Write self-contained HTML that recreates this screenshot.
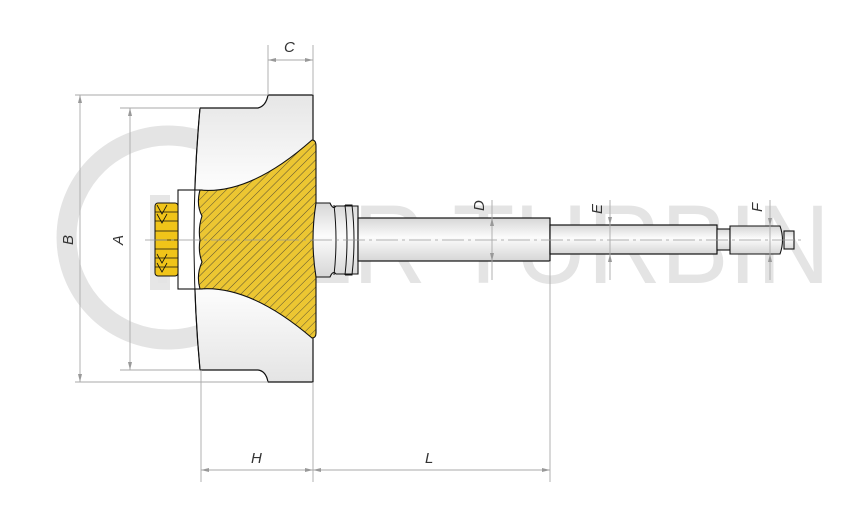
<!DOCTYPE html>
<html><head><meta charset="utf-8"><style>
html,body{margin:0;padding:0;background:#fff;}
svg{display:block;}
text{font-family:"Liberation Sans",sans-serif;}
</style></head><body>
<svg width="864" height="530" viewBox="0 0 864 530" xmlns="http://www.w3.org/2000/svg">
<defs>
<linearGradient id="g" x1="0" y1="0" x2="0" y2="1">
<stop offset="0" stop-color="#d6d6d6"/><stop offset="0.45" stop-color="#fcfcfc"/><stop offset="1" stop-color="#d6d6d6"/>
</linearGradient>
<linearGradient id="gw" x1="0" y1="0" x2="0" y2="1">
<stop offset="0" stop-color="#e6e6e6"/><stop offset="0.3" stop-color="#fbfbfb"/><stop offset="0.7" stop-color="#fbfbfb"/><stop offset="1" stop-color="#e4e4e4"/>
</linearGradient>
<pattern id="h" width="6" height="6" patternUnits="userSpaceOnUse" patternTransform="rotate(45)">
<rect width="6" height="6" fill="#ecc632"/><line x1="0" y1="0" x2="0" y2="6" stroke="#333" stroke-width="0.8"/>
</pattern>
</defs>
<!-- watermark -->
<g>
<path d="M 245 170 A 102 102 0 1 0 245 305" fill="none" stroke="#e4e4e4" stroke-width="20"/>
<polygon points="150,195 170,195 170,230 200,200 225,200 185,240 225,285 200,285 170,252 170,290 150,290" fill="#e6e6e6"/>
<text x="150" y="283" font-size="112" fill="#e4e4e4" textLength="680" lengthAdjust="spacingAndGlyphs">NTER TURBIN</text>
</g>
<!-- wheel -->
<path d="M200 108 L258 108 Q266 106 268 95 L313 95 L313 382 L268 382 Q266 371 258 370 L200 370 Q188 239 200 108 Z" fill="url(#gw)" stroke="#111" stroke-width="1.2"/>
<!-- hub box -->
<rect x="178" y="190" width="24" height="99" fill="#fff" stroke="#111" stroke-width="1.1"/>
<path d="M200 108 Q188 239 200 370" fill="none" stroke="#111" stroke-width="1"/>
<!-- nut -->
<rect x="155" y="203" width="23" height="73" rx="3" fill="#f0c419" stroke="#111" stroke-width="1"/>
<g stroke="#111" stroke-width="0.8" fill="none">
<line x1="155" y1="212" x2="178" y2="212"/><line x1="155" y1="221" x2="178" y2="221"/><line x1="155" y1="231" x2="178" y2="231"/><line x1="155" y1="240" x2="178" y2="240"/><line x1="155" y1="249" x2="178" y2="249"/><line x1="155" y1="258" x2="178" y2="258"/><line x1="155" y1="267" x2="178" y2="267"/>
<polyline points="157,205 162,214 167,205"/><polyline points="157,214 162,223 167,214"/><polyline points="157,254 162,263 167,254"/><polyline points="157,263 162,272 167,263"/>
</g>
<!-- hatched -->
<path d="M200 190 Q250 195 312 140 Q316 140 316 146 L316 333 Q316 338 312 338 Q250 285 200 289 Q196 275 202 262 Q198 252 200 240 Q198 228 202 216 Q196 205 200 190 Z" fill="url(#h)" stroke="#111" stroke-width="1.1"/>
<!-- collar -->
<path d="M316 203 L330 203 Q333 210 336 206 L358 206 L358 274 L336 274 Q333 270 330 277 L316 277 Q310 240 316 203 Z" fill="url(#g)" stroke="#111" stroke-width="1.1"/>
<path d="M334 205 Q338 240 334 275 M345 205 Q349 240 345 275 M345 205 L352 205 Q356 240 352 275 L345 275" fill="none" stroke="#111" stroke-width="1"/>
<!-- shafts -->
<rect x="358" y="218" width="192" height="43" fill="url(#g)" stroke="#111" stroke-width="1.2"/>
<rect x="550" y="225" width="167" height="29" fill="url(#g)" stroke="#111" stroke-width="1.2"/>
<rect x="717" y="229" width="13" height="21" fill="url(#g)" stroke="#111" stroke-width="1.1"/>
<path d="M730 226 L780 226 Q785 240 780 254 L730 254 Z" fill="url(#g)" stroke="#111" stroke-width="1.1"/>
<rect x="784" y="231" width="10" height="18" fill="url(#g)" stroke="#111" stroke-width="1.1"/>
<!-- center line -->
<line x1="145" y1="240" x2="805" y2="240" stroke="#999" stroke-width="0.8" stroke-dasharray="22 4 3 4"/>
<!-- dimension lines -->
<g stroke="#aaa" stroke-width="0.9" fill="none">
<line x1="268" y1="45" x2="268" y2="95"/><line x1="313" y1="45" x2="313" y2="95"/><line x1="268" y1="60" x2="313" y2="60"/>
<line x1="75" y1="95" x2="268" y2="95"/><line x1="75" y1="382" x2="268" y2="382"/><line x1="80" y1="95" x2="80" y2="382"/>
<line x1="120" y1="108" x2="200" y2="108"/><line x1="120" y1="370" x2="200" y2="370"/><line x1="130" y1="108" x2="130" y2="370"/>
<line x1="201" y1="370" x2="201" y2="482"/><line x1="313" y1="382" x2="313" y2="482"/><line x1="550" y1="261" x2="550" y2="482"/>
<line x1="201" y1="470" x2="550" y2="470"/>
<line x1="492" y1="200" x2="492" y2="280"/>
<line x1="610" y1="200" x2="610" y2="280"/>
<line x1="770" y1="200" x2="770" y2="280"/>
</g>
<g fill="#999">
<polygon points="268,60 276,58 276,62"/><polygon points="313,60 305,58 305,62"/>
<polygon points="80,95 78,103 82,103"/><polygon points="80,382 78,374 82,374"/>
<polygon points="130,108 128,116 132,116"/><polygon points="130,370 128,362 132,362"/>
<polygon points="201,470 209,468 209,472"/><polygon points="313,470 305,468 305,472"/><polygon points="313,470 321,468 321,472"/><polygon points="550,470 542,468 542,472"/>
<polygon points="492,218 490,226 494,226"/><polygon points="492,261 490,253 494,253"/>
<polygon points="610,225 608,217 612,217"/><polygon points="610,254 608,262 612,262"/>
<polygon points="770,226 768,218 772,218"/><polygon points="770,254 768,262 772,262"/>
</g>
<g fill="#333" font-size="15" font-style="italic">
<text x="284" y="52">C</text>
<text x="251" y="463">H</text>
<text x="425" y="463">L</text>
<text transform="translate(73 245) rotate(-90)">B</text>
<text transform="translate(123 245) rotate(-90)">A</text>
<text transform="translate(484 211) rotate(-90)">D</text>
<text transform="translate(602 214) rotate(-90)">E</text>
<text transform="translate(762 212) rotate(-90)">F</text>
</g>
</svg>
</body></html>
